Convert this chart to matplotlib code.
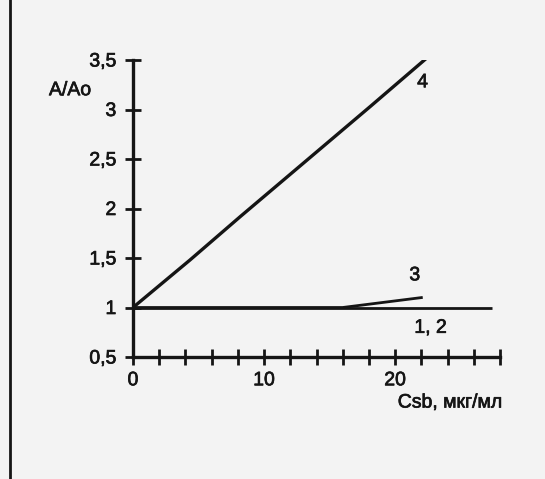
import matplotlib.pyplot as plt
import matplotlib.patheffects as pe
from matplotlib.lines import Line2D

# concentration Csb, mkg/ml  vs  A/Ao
x_12 = [0, 27.4]
y_12 = [1.0, 1.0]
x_3 = [0, 16, 19, 22]
y_3 = [1.0, 1.0, 1.05, 1.1]
x_4 = [0, 4.35, 8.2, 12.75, 18.1, 22.5]
y_4 = [1.0, 1.48, 1.92, 2.43, 3.03, 3.53]

y_ticks = [0.5, 1, 1.5, 2, 2.5, 3, 3.5]
y_labels = ['0,5', '1', '1,5', '2', '2,5', '3', '3,5']
x_ticks = list(range(0, 29, 2))
x_labels = [str(t) if t in (0, 10, 20) else '' for t in x_ticks]

plt.rcParams['font.family'] = ['Liberation Sans', 'DejaVu Sans']
ink = '#151515'
bg = '#f3f3f3'
fx = [pe.withStroke(linewidth=0.5, foreground=ink)]

fig = plt.figure(figsize=(5.45, 4.79), dpi=100, facecolor=bg)
ax = fig.add_axes([133 / 545, 1 - 357 / 479, 367 / 545, 297 / 479])
ax.set_facecolor(bg)

ax.plot(x_12, y_12, color=ink, lw=2.0, solid_capstyle='butt')
ax.plot(x_3, y_3, color=ink, lw=2.0)
ax.plot(x_4, y_4, color=ink, lw=2.4)

ax.set_xlim(0, 28)
ax.set_ylim(0.5, 3.5)
for side in ('top', 'right'):
    ax.spines[side].set_visible(False)
for side in ('left', 'bottom'):
    ax.spines[side].set_linewidth(2.4)
    ax.spines[side].set_color(ink)

ax.set_yticks(y_ticks)
ax.set_yticklabels(y_labels)
ax.set_xticks(x_ticks)
ax.set_xticklabels(x_labels)
ax.tick_params(direction='inout', length=12, width=2.0, color=ink,
               labelcolor=ink, labelsize=14)
ax.tick_params(axis='y', pad=6)
ax.tick_params(axis='x', pad=5)
for lab in ax.get_xticklabels() + ax.get_yticklabels():
    lab.set_path_effects(fx)

kw = dict(fontsize=14, color=ink, ha='center', va='center', path_effects=fx)
ax.text(-4.8, 3.19, 'A/Ao', clip_on=False, **kw)
ax.text(24.2, 0.035, 'Csb, мкг/мл', clip_on=False, **kw)
ax.text(22.1, 3.27, '4', **kw)
ax.text(21.5, 1.32, '3', **kw)
ax.text(22.7, 0.79, '1, 2', **kw)

fig.add_artist(Line2D([10 / 545, 10 / 545], [0, 1], color=ink, lw=2.0))

fig.savefig('out.png', dpi=100, facecolor=bg)
